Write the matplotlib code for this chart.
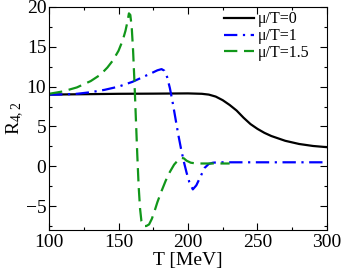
import matplotlib
matplotlib.use("Agg")
import matplotlib.pyplot as plt
from matplotlib.ticker import MultipleLocator

plt.rcParams["font.family"] = ["Liberation Serif", "DejaVu Serif"]
plt.rcParams["mathtext.fontset"] = "custom"
plt.rcParams["mathtext.rm"] = "Liberation Serif"
plt.rcParams["mathtext.it"] = "Liberation Serif:italic"

# mu/T = 0
T0 = [100, 125, 150, 175, 200, 210, 215, 220, 225, 230, 235, 240, 245, 250,
      255, 260, 270, 280, 290, 300]
R0 = [9.0, 9.05, 9.1, 9.12, 9.15, 9.1, 9.0, 8.75, 8.3, 7.7, 7.0, 6.1, 5.3, 4.7,
      4.2, 3.8, 3.2, 2.8, 2.55, 2.4]

# mu/T = 1
T1 = [100, 110, 120, 130, 140, 150, 160, 165, 170, 175, 178, 181, 183, 185,
      187, 189, 191, 193, 195, 197, 199, 201, 203.5, 206, 209, 212, 215, 218,
      222, 230, 250, 275, 300]
R1 = [9.0, 9.02, 9.1, 9.3, 9.6, 10.0, 10.6, 11.0, 11.4, 11.8, 12.05, 12.2, 12.0,
      11.2, 9.8, 8.0, 6.0, 4.0, 2.2, 0.6, -0.8, -2.0, -2.9, -2.4, -1.3, -0.2,
      0.3, 0.45, 0.5, 0.5, 0.5, 0.5, 0.5]

# mu/T = 1.5
T15 = [100, 110, 120, 130, 137, 142, 146, 150, 153, 155, 156.5, 157.5, 158.5,
       159.5, 160.5, 161.5, 162.5, 163.5, 164.5, 165.5, 166.5, 168, 170, 172,
       174, 176, 178, 181, 184, 187, 190, 193, 195, 197, 199, 202, 206, 212,
       220, 230]
R15 = [9.1, 9.4, 9.9, 10.7, 11.5, 12.4, 13.3, 14.5, 15.8, 17.0, 18.2, 19.2, 19.0,
       17.5, 14.5, 10.5, 6.0, 1.5, -2.5, -5.3, -6.9, -7.5, -7.5, -7.3, -6.6,
       -5.6, -4.5, -3.1, -1.8, -0.7, 0.2, 0.8, 1.05, 1.0, 0.7, 0.45, 0.35, 0.35,
       0.35, 0.35]

fig, ax = plt.subplots(figsize=(3.43, 2.69), dpi=100)
fig.subplots_adjust(left=0.143, right=0.953, top=0.974, bottom=0.145)

ax.plot(T0, R0, color="black", lw=1.6, label=r"μ/T=0")
ax.plot(T1, R1, color="#0000ff", lw=1.6, dashes=(6, 2.5, 1, 2.5), label=r"μ/T=1")
ax.plot(T15, R15, color="#11971a", lw=1.6, dashes=(6, 3), label=r"μ/T=1.5")

ax.set_xlim(100, 300)
ax.set_ylim(-8, 20)
ax.xaxis.set_major_locator(MultipleLocator(50))
ax.xaxis.set_minor_locator(MultipleLocator(25))
ax.yaxis.set_major_locator(MultipleLocator(5))
ax.yaxis.set_minor_locator(MultipleLocator(2.5))
ax.tick_params(which="both", direction="in", top=True, right=True, labelsize=14)
ax.tick_params(which="major", length=5, width=0.8)
ax.tick_params(which="minor", length=2.5, width=0.8)
ax.tick_params(axis="x", pad=3)
ax.tick_params(axis="y", pad=2)

ax.set_xlabel("T [MeV]", fontsize=14, labelpad=0.5)
ax.set_ylabel(r"R$_{\mathrm{4,2}}$", fontsize=14, labelpad=0)

ax.legend(loc="upper right", bbox_to_anchor=(0.95, 0.995), frameon=False,
          fontsize=11.5, handlelength=1.9, handletextpad=0.25,
          labelspacing=0.05, borderaxespad=0, borderpad=0.2)

fig.savefig("out.png", dpi=100)
